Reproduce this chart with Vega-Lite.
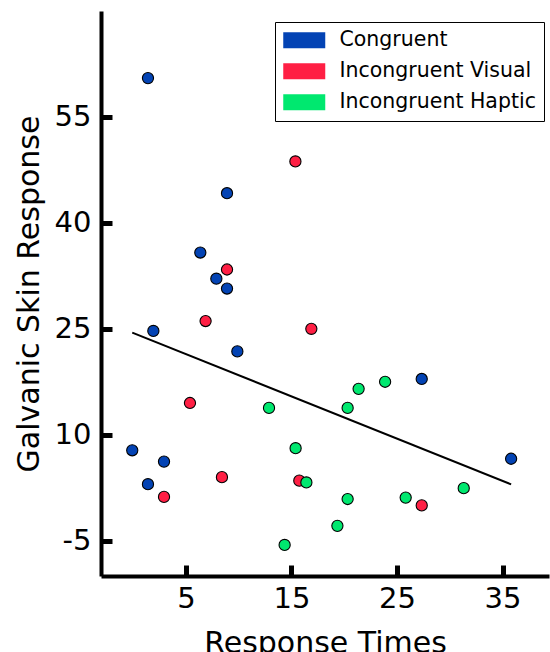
{
  "$schema": "https://vega.github.io/schema/vega-lite/v6.json",
  "width": 448,
  "height": 565,
  "autosize": "none",
  "padding": {"left": 101, "top": 11, "right": 1, "bottom": 76},
  "background": "white",
  "data": {
    "values": [
      {"rt": 1.40, "gsr": 60.5, "cond": "Congruent"},
      {"rt": 8.89, "gsr": 44.2, "cond": "Congruent"},
      {"rt": 6.36, "gsr": 35.8, "cond": "Congruent"},
      {"rt": 7.88, "gsr": 32.1, "cond": "Congruent"},
      {"rt": 8.89, "gsr": 30.7, "cond": "Congruent"},
      {"rt": 1.91, "gsr": 24.7, "cond": "Congruent"},
      {"rt": 9.87, "gsr": 21.8, "cond": "Congruent"},
      {"rt": 27.34, "gsr": 17.9, "cond": "Congruent"},
      {"rt": -0.09, "gsr": 7.8, "cond": "Congruent"},
      {"rt": 2.92, "gsr": 6.2, "cond": "Congruent"},
      {"rt": 35.81, "gsr": 6.6, "cond": "Congruent"},
      {"rt": 1.40, "gsr": 3.0, "cond": "Congruent"},
      {"rt": 15.37, "gsr": 48.7, "cond": "Incongruent Visual"},
      {"rt": 8.89, "gsr": 33.4, "cond": "Incongruent Visual"},
      {"rt": 6.86, "gsr": 26.1, "cond": "Incongruent Visual"},
      {"rt": 16.88, "gsr": 25.0, "cond": "Incongruent Visual"},
      {"rt": 5.38, "gsr": 14.5, "cond": "Incongruent Visual"},
      {"rt": 2.92, "gsr": 1.2, "cond": "Incongruent Visual"},
      {"rt": 8.41, "gsr": 4.0, "cond": "Incongruent Visual"},
      {"rt": 15.74, "gsr": 3.5, "cond": "Incongruent Visual"},
      {"rt": 27.34, "gsr": 0.0, "cond": "Incongruent Visual"},
      {"rt": 23.87, "gsr": 17.5, "cond": "Incongruent Haptic"},
      {"rt": 21.36, "gsr": 16.5, "cond": "Incongruent Haptic"},
      {"rt": 12.87, "gsr": 13.8, "cond": "Incongruent Haptic"},
      {"rt": 20.32, "gsr": 13.8, "cond": "Incongruent Haptic"},
      {"rt": 15.39, "gsr": 8.1, "cond": "Incongruent Haptic"},
      {"rt": 16.41, "gsr": 3.25, "cond": "Incongruent Haptic"},
      {"rt": 20.32, "gsr": 0.9, "cond": "Incongruent Haptic"},
      {"rt": 25.82, "gsr": 1.1, "cond": "Incongruent Haptic"},
      {"rt": 31.32, "gsr": 2.44, "cond": "Incongruent Haptic"},
      {"rt": 19.35, "gsr": -2.9, "cond": "Incongruent Haptic"},
      {"rt": 14.35, "gsr": -5.6, "cond": "Incongruent Haptic"}
    ]
  },
  "layer": [
    {
      "transform": [{"regression": "gsr", "on": "rt"}],
      "mark": {"type": "line", "color": "black", "strokeWidth": 2},
      "encoding": {
        "x": {"field": "rt", "type": "quantitative"},
        "y": {"field": "gsr", "type": "quantitative"}
      }
    },
    {
      "mark": {"type": "point", "filled": true, "opacity": 1, "size": 125, "stroke": "black", "strokeWidth": 1.1},
      "encoding": {
        "x": {
          "field": "rt", "type": "quantitative",
          "scale": {"domain": [-3.05, 39.4], "nice": false, "zero": false},
          "axis": {"values": [5, 15, 25, 35], "title": "Response Times", "labelPadding": 19, "titlePadding": 15}
        },
        "y": {
          "field": "gsr", "type": "quantitative",
          "scale": {"domain": [-10, 70], "nice": false, "zero": false},
          "axis": {"values": [-5, 10, 25, 40, 55], "title": "Galvanic Skin Response", "labelPadding": 21, "titlePadding": 10, "labelExpr": "'' + datum.value"}
        },
        "color": {
          "field": "cond", "type": "nominal",
          "scale": {
            "domain": ["Congruent", "Incongruent Visual", "Incongruent Haptic"],
            "range": ["#0343b4", "#ff1f44", "#00e86f"]
          },
          "legend": {
            "title": null,
            "orient": "none",
            "legendX": 174,
            "legendY": 11,
            "symbolType": "M-2.1,-0.8H2.1V0.8H-2.1Z",
            "symbolSize": 400,
            "symbolOffset": 11,
            "symbolStrokeWidth": 0,
            "symbolStrokeColor": "transparent",
            "labelOffset": 25,
            "rowPadding": 10,
            "labelLimit": 400,
            "encode": {"symbols": {"update": {"stroke": {"value": "transparent"}, "strokeWidth": {"value": 0}, "opacity": {"value": 1}}}}
          }
        }
      }
    }
  ],
  "config": {
    "view": {"stroke": null},
    "legend": {
      "padding": 8,
      "strokeColor": "black",
      "fillColor": "white",
      "cornerRadius": 0,
      "labelFont": "DejaVu Sans",
      "labelFontSize": 20.5,
      "labelColor": "black"
    },
    "axis": {
      "grid": false,
      "domainColor": "black",
      "domainWidth": 4,
      "tickColor": "black",
      "tickWidth": 5,
      "tickSize": -11,
      "labelFont": "DejaVu Sans",
      "labelFontSize": 29,
      "labelColor": "black",
      "titleFont": "DejaVu Sans",
      "titleFontSize": 30,
      "titleFontWeight": "normal",
      "titleColor": "black"
    }
  }
}
